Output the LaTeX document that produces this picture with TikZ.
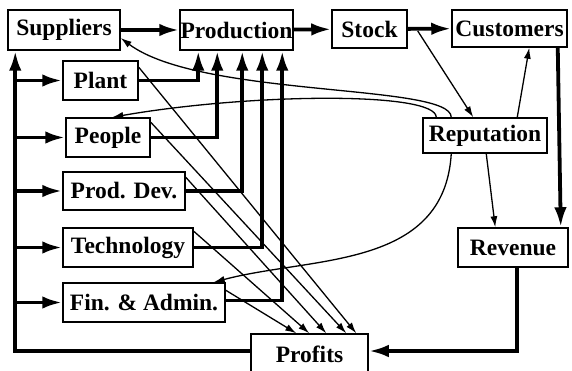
\documentclass[tikz,border=0pt]{standalone}
\usepackage{fontspec}
\setmainfont{Liberation Serif}
\usetikzlibrary{arrows.meta}
\tikzset{
  box/.style={draw, line width=1.5pt, inner sep=0pt, font=\bfseries\fontsize{23.5}{25}\selectfont},
  flow/.style={-{Latex[length=20pt,width=12.5pt]}, line width=3.8pt},
  link/.style={-{Latex[length=11pt,width=7pt]}, line width=1.3pt},
}
\begin{document}
\begin{tikzpicture}[x=1pt,y=1pt]
\useasboundingbox (0,0) rectangle (572,-371);

\node[box, minimum width=112pt, minimum height=40pt] (sup) at (64,-30) {Suppliers};
\node[box, minimum width=113pt, minimum height=40pt] (prod) at (236.5,-30) {Production};
\node[box, minimum width=75pt, minimum height=38pt] (stk) at (369.5,-29) {Stock};
\node[box, minimum width=115pt, minimum height=37pt] (cus) at (509.5,-28.5) {Customers};
\node[box, minimum width=75pt, minimum height=39pt] (plant) at (100.5,-80.5) {Plant};
\node[box, minimum width=84pt, minimum height=39pt] (ppl) at (108,-137.5) {People};
\node[box, minimum width=122pt, minimum height=38pt] (dev) at (124,-191) {Prod. Dev.};
\node[box, minimum width=130pt, minimum height=39pt] (tech) at (128,-247.5) {Technology};
\node[box, minimum width=162pt, minimum height=39pt] (fin) at (144,-302.5) {Fin. \& Admin.};
\node[box, minimum width=124pt, minimum height=35pt] (rep) at (485,-135.5) {Reputation};
\node[box, minimum width=110pt, minimum height=39pt] (rev) at (513,-247.5) {Revenue};
\node[box, minimum width=117pt, minimum height=40pt] (prof) at (309.5,-354) {Profits};

\coordinate (bus) at ([xshift=8pt]sup.south west);

\draw[flow] (sup) -- (prod);
\draw[flow] (prod) -- (stk);
\draw[flow] (stk) -- (cus);
\draw[flow] ([xshift=-10pt]cus.south east) -- ([xshift=-8pt]rev.north east);
\draw[flow] ([xshift=4pt]rev.south) |- ([yshift=3pt]prof.east);
\draw[flow] ([yshift=3pt]prof.west) -| (bus);

\draw[flow] (bus |- plant.west) -- (plant.west);
\draw[flow] (bus |- ppl.west) -- (ppl.west);
\draw[flow] (bus |- dev.west) -- (dev.west);
\draw[flow] (bus |- tech.west) -- (tech.west);
\draw[flow] (bus |- fin.west) -- (fin.west);

\draw[flow] (plant.east) -| ([xshift=19pt]prod.south west);
\draw[flow] (ppl.east) -| ([xshift=38pt]prod.south west);
\draw[flow] (dev.east) -| ([xshift=63pt]prod.south west);
\draw[flow] (tech.east) -| ([xshift=83pt]prod.south west);
\draw[flow] ([yshift=2pt]fin.east) -| ([xshift=103pt]prod.south west);

\draw[link] ([yshift=-7pt]plant.north east) -- ([xshift=106pt]prof.north west);
\draw[link] ([yshift=-5pt]ppl.north east) -- ([xshift=96pt]prof.north west);
\draw[link] ([yshift=-6pt]dev.north east) -- ([xshift=76pt]prof.north west);
\draw[link] ([yshift=-4pt]tech.north east) -- ([xshift=59pt]prof.north west);
\draw[link] ([yshift=-8pt]fin.north east) -- ([xshift=46pt]prof.north west);

\draw[link] ([xshift=10pt,yshift=-2pt]stk.east) -- ([xshift=51pt]rep.north west);
\draw[link] ([xshift=95pt]rep.north west) -- ([xshift=78pt]cus.south west);
\draw[link] ([xshift=64pt]rep.south west) -- ([xshift=38pt]rev.north west);

\draw[link] ([xshift=29pt]rep.north west) .. controls +(0,34) and +(80,-60) .. ([yshift=-8pt]sup.east);
\draw[link] ([xshift=14pt]rep.north west) .. controls +(0,26) and +(137,24) .. ([xshift=47pt]ppl.north west);
\draw[link] ([xshift=29pt]rep.south west) .. controls +(-7,-116) and +(97,26) .. ([xshift=-12pt]fin.north east);

\end{tikzpicture}
\end{document}
